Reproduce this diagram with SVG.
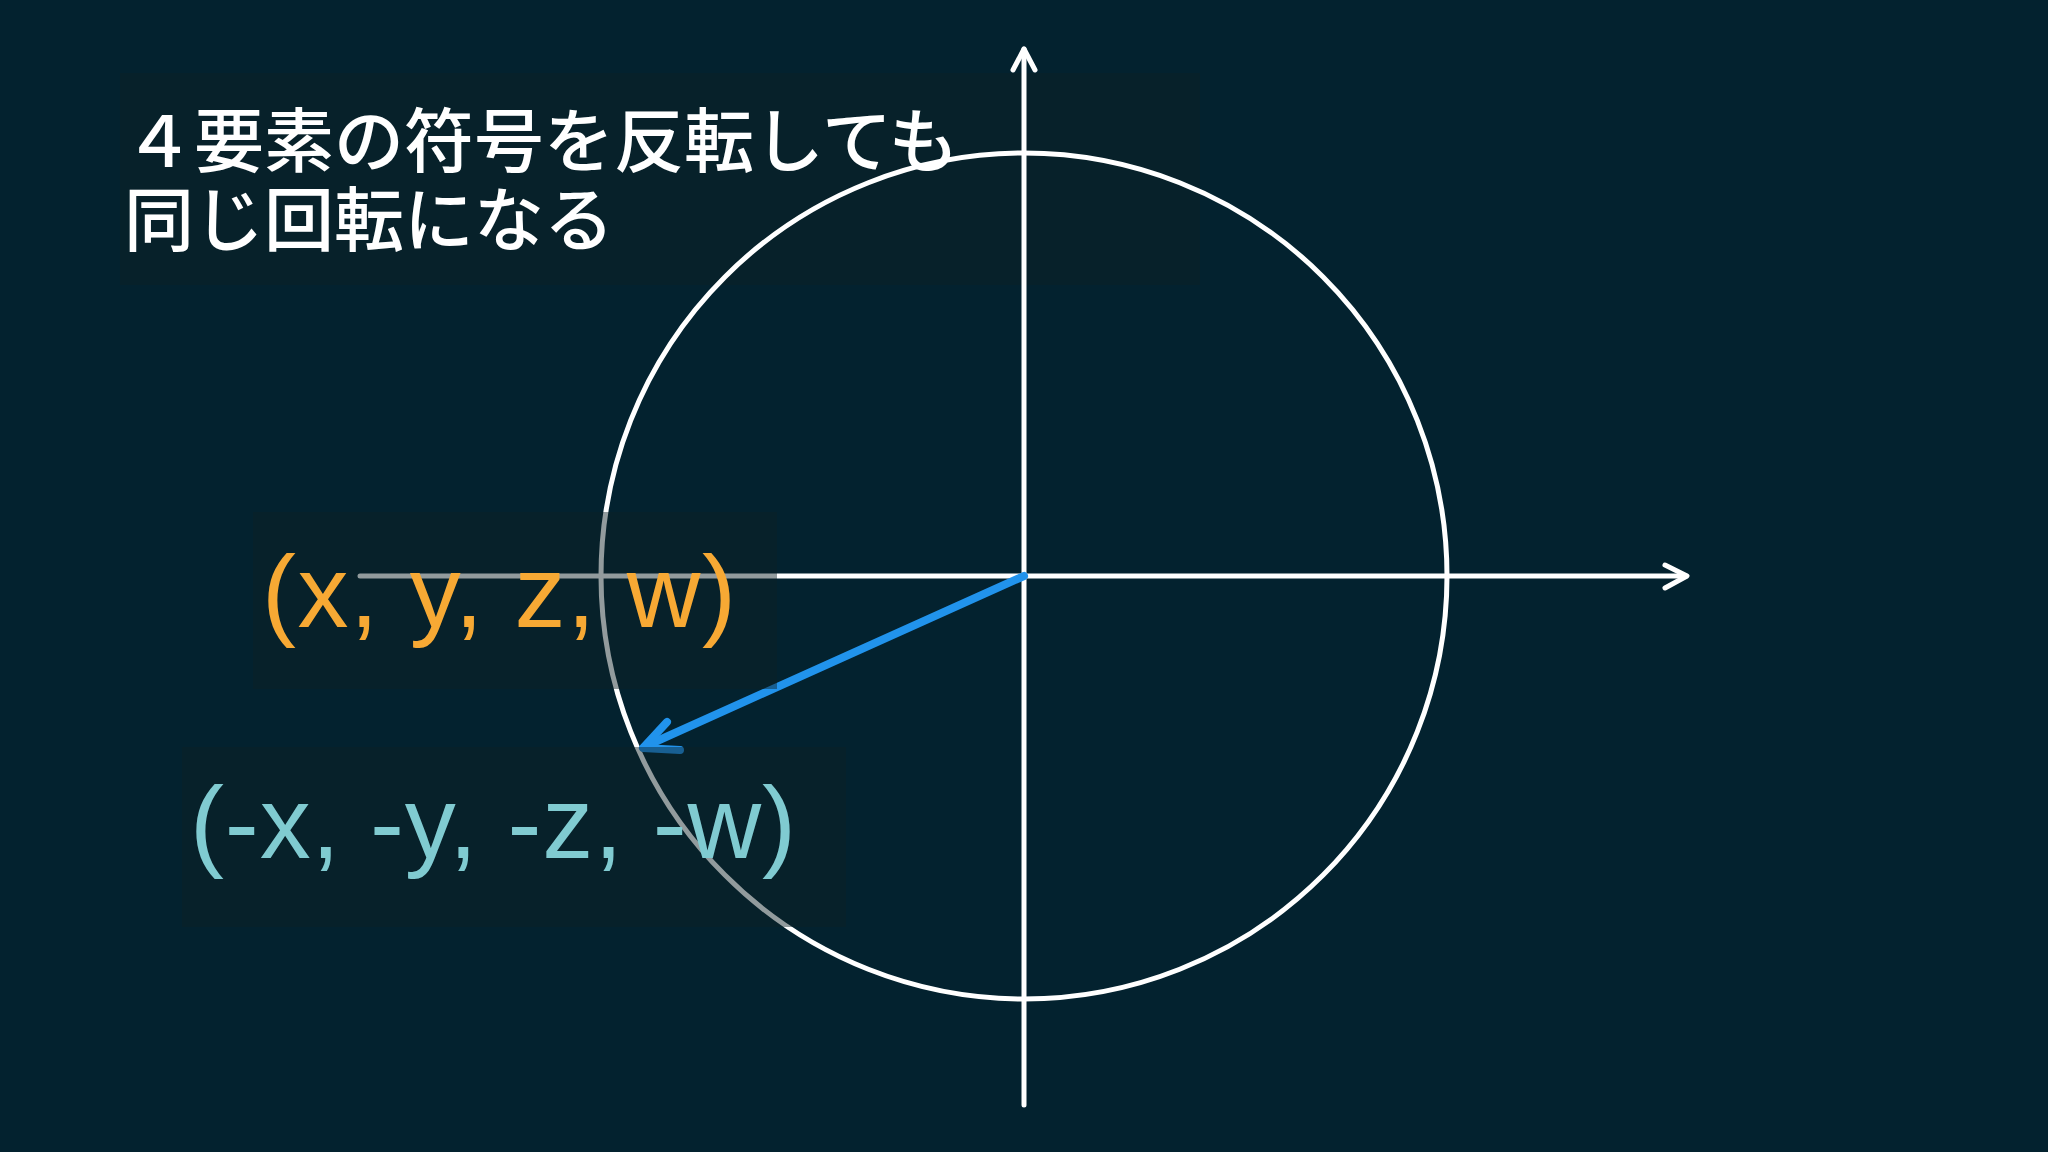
<svg xmlns="http://www.w3.org/2000/svg" width="2048" height="1152" viewBox="0 0 2048 1152">
  <style>
    .panel { fill: #0e2126; fill-opacity: 0.45; }
    .axis { stroke: #ffffff; stroke-width: 5; fill: none; stroke-linecap: round; stroke-linejoin: round; }
    .title { font-family: "Noto Sans CJK JP", "Noto Sans", sans-serif; font-size: 70px; font-weight: 500; fill: #ffffff; }
    .coord { font-family: "Liberation Sans", Arial, sans-serif; font-size: 102px; }
    .vec { stroke: #2193ec; stroke-width: 8; fill: none; stroke-linecap: round; stroke-linejoin: round; }
  </style>
  <rect width="2048" height="1152" fill="#03222f"/>
  <g id="title-panel">
    <rect class="panel" x="120" y="73" width="1080" height="212"/>
  </g>
  <g id="connectors">
    <circle class="axis" cx="1024" cy="576" r="423"/>
    <line class="axis" x1="1024" y1="1105" x2="1024" y2="49"/>
    <polyline class="axis" points="1013,70 1024,49 1035,70"/>
    <line class="axis" x1="360" y1="576" x2="1686" y2="576"/>
    <polyline class="axis" points="1665,565 1687,576 1665,588"/>
    <line class="vec" x1="1024" y1="576" x2="646" y2="746"/>
    <polyline class="vec" points="667,722 643,748 680,750"/>
  </g>
  <g id="title">
    <text class="title" x="124" y="167">４要素の符号を反転しても</text>
    <text class="title" x="124" y="246">同じ回転になる</text>
  </g>
  <g id="coord-positive">
    <rect class="panel" x="253" y="512" width="524" height="177"/>
    <text class="coord" x="262" y="627" fill="#f7a934" textLength="474" lengthAdjust="spacing">(x, y, z, w)</text>
  </g>
  <g id="coord-negative">
    <rect class="panel" x="182" y="747" width="664" height="180"/>
    <text class="coord" x="190" y="858" fill="#80cbd1" textLength="606" lengthAdjust="spacing">(-x, -y, -z, -w)</text>
  </g>
</svg>
